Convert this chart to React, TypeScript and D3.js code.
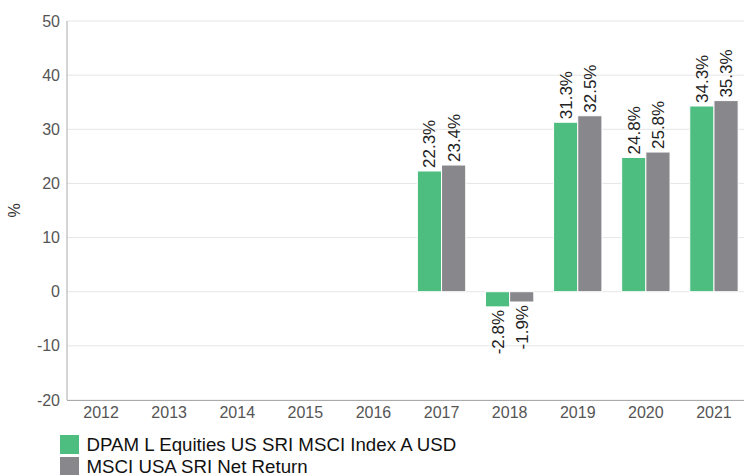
import React from "react";
import * as d3 from "d3";

const years = ["2012", "2013", "2014", "2015", "2016", "2017", "2018", "2019", "2020", "2021"];
const fundValues: (number | null)[] = [null, null, null, null, null, 22.3, -2.8, 31.3, 24.8, 34.3];
const indexValues: (number | null)[] = [null, null, null, null, null, 23.4, -1.9, 32.5, 25.8, 35.3];
const seriesNames = ["DPAM L Equities US SRI MSCI Index A USD", "MSCI USA SRI Net Return"];
const seriesColors = ["#4dbd80", "#87878c"];
const yTicks = [-20, -10, 0, 10, 20, 30, 40, 50];

const W = 744;
const H = 475;
const margin = { left: 67, right: -4, top: 21, bottom: 75 };
const font = "'Liberation Sans', Arial, sans-serif";

export default function App() {
  const x0 = d3
    .scaleBand<string>()
    .domain(years)
    .range([margin.left, W - margin.right])
    .paddingInner(0.29)
    .paddingOuter(0.145);
  const x1 = d3.scaleBand<number>().domain([0, 1]).range([0, x0.bandwidth()]).padding(0);
  const y = d3.scaleLinear().domain([-20, 50]).range([H - margin.bottom, margin.top]);

  const series = [fundValues, indexValues];
  const plotRight = W - margin.right;

  return (
    <svg width={W} height={H} style={{ position: "absolute", left: 0, top: 0 }} fontFamily={font}>
      {/* grid */}
      {yTicks.map(t => (
        <line key={t} x1={margin.left} x2={plotRight} y1={y(t)} y2={y(t)} stroke="#e6e6e6" strokeWidth={1} />
      ))}
      {/* y labels */}
      {yTicks.map(t => (
        <text key={"l" + t} x={60} y={y(t)} dy="0.35em" textAnchor="end" fontSize={16} fill="#555">
          {t}
        </text>
      ))}
      <text transform={`translate(20,${(margin.top + H - margin.bottom) / 2}) rotate(-90)`} textAnchor="middle" fontSize={16} fill="#333">
        %
      </text>
      {/* bars */}
      {years.map((yr, i) => (
        <g key={yr} transform={`translate(${x0(yr)},0)`}>
          {series.map((s, k) => {
            const v = s[i];
            if (v == null) return null;
            const bx = x1(k)!;
            const bw = x1.bandwidth();
            const top = y(Math.max(0, v));
            const bot = y(Math.min(0, v));
            const cx = bx + bw / 2;
            return (
              <g key={k}>
                <rect x={bx} y={top} width={bw} height={bot - top} fill={seriesColors[k]} stroke="#fff" strokeWidth={1} />
                <text
                  transform={`translate(${cx + 6},${v >= 0 ? top - 3 : bot + 3}) rotate(-90)`}
                  textAnchor={v >= 0 ? "start" : "end"}
                  fontSize={17}
                  fill="#222"
                >
                  {v.toFixed(1)}%
                </text>
              </g>
            );
          })}
        </g>
      ))}
      {/* axes */}
      <line x1={margin.left} x2={margin.left} y1={margin.top} y2={y(-20)} stroke="#aaa" strokeWidth={1} />
      <line x1={margin.left} x2={plotRight} y1={y(-20) + 0.5} y2={y(-20) + 0.5} stroke="#aaa" strokeWidth={1} />
      {years.map(yr => (
        <text key={"x" + yr} x={x0(yr)! + x0.bandwidth() / 2} y={418} textAnchor="middle" fontSize={16} fill="#555">
          {yr}
        </text>
      ))}
      {/* legend */}
      {seriesNames.map((n, k) => (
        <g key={n} transform={`translate(60,${435 + k * 22})`}>
          <rect x={0} y={0} width={19} height={19} fill={seriesColors[k]} />
          <text x={26.5} y={16} fontSize={18.7} fill="#111">
            {n}
          </text>
        </g>
      ))}
    </svg>
  );
}
